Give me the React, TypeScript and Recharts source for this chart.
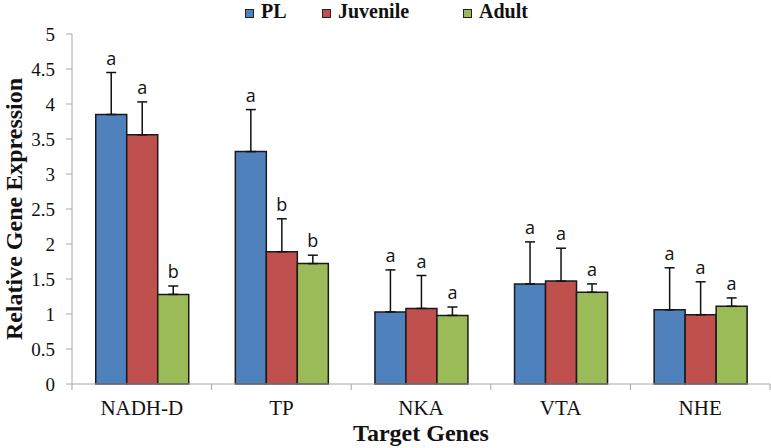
import React from "react";
import { BarChart, Bar, XAxis, YAxis, ErrorBar, LabelList } from "recharts";

const categories = ["NADH-D", "TP", "NKA", "VTA", "NHE"];
const plValues = [3.85, 3.32, 1.03, 1.43, 1.06];
const plErrors = [0.6, 0.6, 0.6, 0.6, 0.6];
const plLetters = ["a", "a", "a", "a", "a"];
const juvenileValues = [3.56, 1.89, 1.08, 1.47, 0.99];
const juvenileErrors = [0.47, 0.47, 0.47, 0.47, 0.47];
const juvenileLetters = ["a", "b", "a", "a", "a"];
const adultValues = [1.28, 1.72, 0.98, 1.31, 1.11];
const adultErrors = [0.12, 0.12, 0.12, 0.12, 0.12];
const adultLetters = ["b", "b", "a", "a", "a"];
const yTicks = [0, 0.5, 1, 1.5, 2, 2.5, 3, 3.5, 4, 4.5, 5];

const seriesNames = ["PL", "Juvenile", "Adult"];
const colors = ["#4F81BD", "#C0504D", "#9BBB59"];

const data = categories.map((gene, i) => ({
  gene,
  pl: plValues[i],
  plErr: [0, plErrors[i]],
  juvenile: juvenileValues[i],
  juvenileErr: [0, juvenileErrors[i]],
  adult: adultValues[i],
  adultErr: [0, adultErrors[i]],
}));

const AXIS = "#a6a6a6";
const SERIF = "'Liberation Serif', 'Times New Roman', serif";

function makeLetterLabel(errors: number[], letters: string[]) {
  return (props: any) => {
    const { x, y, width, height, value, index } = props;
    if (value == null || !height) return null;
    const pxPerUnit = height / value;
    const top = y - errors[index] * pxPerUnit;
    return (
      <text
        x={x + width / 2}
        y={top - 8}
        textAnchor="middle"
        fontFamily="'Open Sans', 'Liberation Sans', Arial, sans-serif"
        fontSize={18}
        fill="#111"
      >
        {letters[index]}
      </text>
    );
  };
}

const XTick = (props: any) => {
  const { x, y, payload, index, visibleTicksCount } = props;
  const off = payload.offset || 0;
  const isLast = index === (visibleTicksCount ?? categories.length) - 1;
  return (
    <g>
      <line x1={x - off} x2={x - off} y1={y} y2={y + 6} stroke={AXIS} strokeWidth={1} />
      {isLast && (
        <line x1={x + off} x2={x + off} y1={y} y2={y + 6} stroke={AXIS} strokeWidth={1} />
      )}
      <text x={x} y={y + 31} textAnchor="middle" fontFamily={SERIF} fontSize={21} fill="#111">
        {payload.value}
      </text>
    </g>
  );
};

export default function App() {
  const legendLefts = [245, 322, 463];
  return (
    <div style={{ position: "absolute", left: 0, top: 0, width: 771, height: 448, background: "#fff" }}>
      <BarChart
        width={771}
        height={448}
        data={data}
        margin={{ top: 34, right: 1, left: 0, bottom: 0 }}
        barCategoryGap="17%"
        barGap={0}
      >
        <XAxis
          dataKey="gene"
          height={64}
          stroke={AXIS}
          tickLine={false}
          tickSize={0}
          tickMargin={0}
          tick={<XTick />}
          interval={0}
          label={{
            value: "Target Genes",
            position: "insideBottom",
            offset: 7,
            style: { fontFamily: SERIF, fontWeight: "bold", fontSize: 24, fill: "#111" },
          }}
        />
        <YAxis
          width={72}
          domain={[0, 5]}
          ticks={yTicks}
          interval={0}
          stroke={AXIS}
          tickSize={6}
          tickMargin={11}
          tick={{ fontFamily: SERIF, fontSize: 19, fill: "#111" }}
          label={{
            value: "Relative Gene Expression",
            angle: -90,
            position: "insideLeft",
            offset: 0,
            dx: 13,
            style: { textAnchor: "middle", fontFamily: SERIF, fontWeight: "bold", fontSize: 24, fill: "#111" },
          }}
        />
        <Bar dataKey="pl" fill={colors[0]} stroke="#1a1a1a" strokeWidth={1.5} isAnimationActive={false}>
          <ErrorBar dataKey="plErr" width={5} stroke="#111" strokeWidth={1.5} direction="y" />
          <LabelList dataKey="pl" content={makeLetterLabel(plErrors, plLetters)} />
        </Bar>
        <Bar dataKey="juvenile" fill={colors[1]} stroke="#1a1a1a" strokeWidth={1.5} isAnimationActive={false}>
          <ErrorBar dataKey="juvenileErr" width={5} stroke="#111" strokeWidth={1.5} direction="y" />
          <LabelList dataKey="juvenile" content={makeLetterLabel(juvenileErrors, juvenileLetters)} />
        </Bar>
        <Bar dataKey="adult" fill={colors[2]} stroke="#1a1a1a" strokeWidth={1.5} isAnimationActive={false}>
          <ErrorBar dataKey="adultErr" width={5} stroke="#111" strokeWidth={1.5} direction="y" />
          <LabelList dataKey="adult" content={makeLetterLabel(adultErrors, adultLetters)} />
        </Bar>
      </BarChart>
      {seriesNames.map((name, i) => (
        <div
          key={name}
          style={{
            position: "absolute",
            left: legendLefts[i],
            top: 0,
            height: 22,
            display: "flex",
            alignItems: "center",
            fontFamily: SERIF,
            fontWeight: "bold",
            fontSize: 20,
            color: "#111",
            whiteSpace: "nowrap",
          }}
        >
          <span
            style={{
              display: "inline-block",
              width: 7,
              height: 7,
              background: colors[i],
              border: "1px solid #222",
              marginRight: 7,
              marginTop: 5,
            }}
          />
          {name}
        </div>
      ))}
    </div>
  );
}
